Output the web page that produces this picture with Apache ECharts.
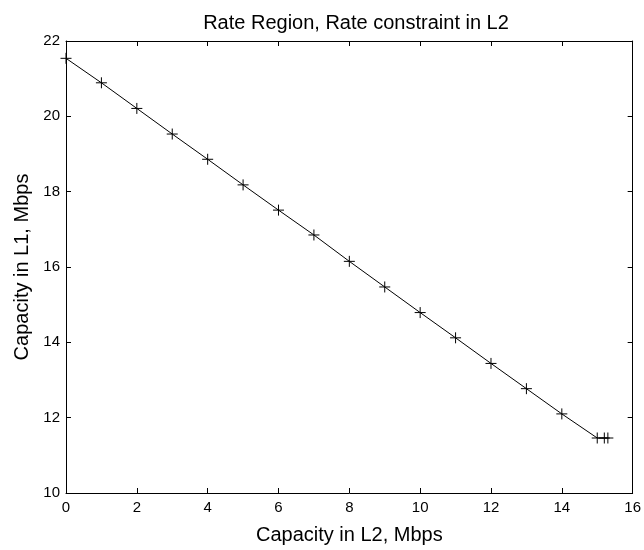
<!DOCTYPE html>
<html>
<head>
<meta charset="utf-8">
<script src="https://cdn.jsdelivr.net/npm/echarts@6/dist/echarts.min.js"></script>
<style>html,body{margin:0;padding:0;background:#fff}#c{width:644px;height:550px}</style>
</head>
<body>
<div id="c"></div>
<script>
const titleText = "Rate Region, Rate constraint in L2";
const xName = "Capacity in L2, Mbps";
const yName = "Capacity in L1, Mbps";
const capL2 = [0, 1, 2, 3, 4, 5, 6, 7, 8, 9, 10, 11, 12, 13, 14, 15, 15.2, 15.3];
const capL1 = [21.54, 20.89, 20.21, 19.53, 18.86, 18.18, 17.51, 16.85, 16.15, 15.47, 14.79, 14.12, 13.44, 12.77, 12.10, 11.46, 11.46, 11.46];
const xTicks = [0, 16, 2];
const yTicks = [10, 22, 2];

const font = "'Liberation Sans', Arial, Helvetica, sans-serif";
const chart = echarts.init(document.getElementById('c'), null, {renderer: 'canvas'});
const plusPath = 'path://M5,0L5,10M0,5L10,5';
function axisCommon(extra) {
  return Object.assign({
    type: 'value',
    splitLine: {show: false},
    axisLine: {show: true, onZero: false, lineStyle: {color: '#000', width: 1}},
    axisTick: {show: true, inside: true, length: 5, lineStyle: {color: '#000'}},
    axisLabel: {color: '#000', fontFamily: font, fontSize: 15},
  }, extra);
}
chart.setOption({
  animation: false,
  backgroundColor: '#fff',
  title: {
    text: titleText, left: 351, textAlign: 'center', top: 8,
    textStyle: {color: '#000', fontFamily: font, fontSize: 20, fontWeight: 'normal'}
  },
  grid: {left: 66, right: 8, top: 41, bottom: 55, containLabel: false},
  xAxis: [
    axisCommon({min: xTicks[0], max: xTicks[1], interval: xTicks[2], position: 'bottom',
      name: xName, nameLocation: 'middle', nameGap: 32,
      nameTextStyle: {color: '#000', fontFamily: font, fontSize: 20},
      axisLabel: {color: '#000', fontFamily: font, fontSize: 15, margin: 7}}),
    axisCommon({min: xTicks[0], max: xTicks[1], interval: xTicks[2], position: 'top',
      axisLabel: {show: false}})
  ],
  yAxis: [
    axisCommon({min: yTicks[0], max: yTicks[1], interval: yTicks[2], position: 'left',
      name: yName, nameLocation: 'middle', nameGap: 30,
      nameTextStyle: {color: '#000', fontFamily: font, fontSize: 20},
      axisLabel: {color: '#000', fontFamily: font, fontSize: 15, margin: 6}}),
    axisCommon({min: yTicks[0], max: yTicks[1], interval: yTicks[2], position: 'right',
      axisLabel: {show: false}})
  ],
  series: [{
    type: 'line',
    data: capL2.map((x, i) => [x, capL1[i]]),
    showSymbol: true,
    symbol: plusPath,
    symbolSize: 11,
    itemStyle: {color: 'rgba(0,0,0,0)', borderColor: '#000', borderWidth: 1},
    lineStyle: {color: '#000', width: 1},
    clip: false
  }]
});
</script>
</body>
</html>
